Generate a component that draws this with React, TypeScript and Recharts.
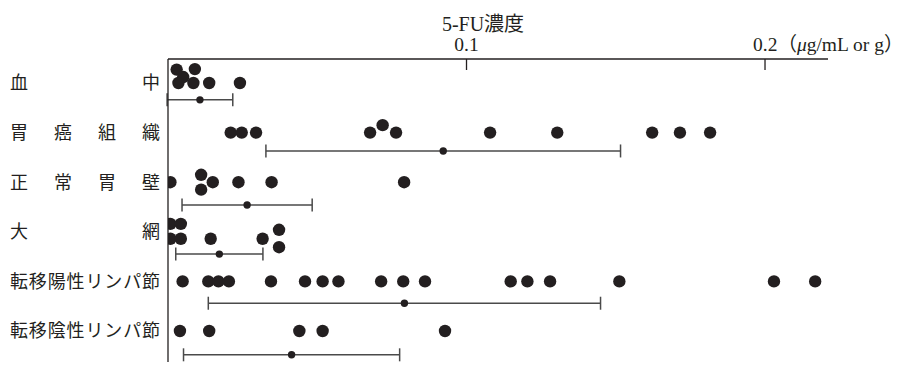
import { ScatterChart, Scatter, XAxis, YAxis, ErrorBar } from "recharts";

const INK = "#231f20";
const BAR_INK = "#4a4a4a";
const SERIF = "'Liberation Serif', 'Noto Sans CJK JP', serif";
const JP = "'Noto Sans CJK JP', sans-serif";

const ROW_NAMES = ["血中", "胃癌組織", "正常胃壁", "大網", "転移陽性リンパ節", "転移陰性リンパ節"];

// individual 5-FU concentrations (µg/mL or g)
const bloodValues = [0.0029, 0.009, 0.0051, 0.0035, 0.0085, 0.0138, 0.0241];
const cancerValues = [0.021, 0.0247, 0.0295, 0.0677, 0.0719, 0.0764, 0.1079, 0.1304, 0.1622, 0.1715, 0.1816];
const normalValues = [0.0008, 0.0111, 0.0111, 0.015, 0.0236, 0.0347, 0.0791];
const omentumValues = [0.0008, 0.0043, 0.0008, 0.0043, 0.0143, 0.0317, 0.0372, 0.0372];
const posNodeValues = [
  0.0049, 0.0135, 0.0169, 0.0204, 0.0345, 0.0459, 0.0518, 0.0571, 0.0714, 0.0788, 0.0861, 0.1148, 0.1204,
  0.128, 0.1512, 0.203, 0.2168,
];
const negNodeValues = [0.004, 0.0138, 0.044, 0.0518, 0.0928];

// vertical stacking of overlapping dots (in row units)
const bloodStack = [-0.27, -0.28, -0.12, 0, 0, 0, 0];
const cancerStack = [0, 0, 0, 0, -0.15, 0, 0, 0, 0, 0, 0];
const normalStack = [0, -0.15, 0.15, 0, 0, 0, 0];
const omentumStack = [-0.16, -0.16, 0.14, 0.14, 0.14, 0.14, -0.04, 0.31];
const posNodeStack = posNodeValues.map(() => 0);
const negNodeStack = negNodeValues.map(() => 0);

// mean ± SD per row
const MEANS = [0.0107, 0.0922, 0.0265, 0.0172, 0.0792, 0.0414];
const SDS = [0.011, 0.0594, 0.0218, 0.0146, 0.0657, 0.0362];
const BAR_ROW_OFFSET = [0.34, 0.37, 0.46, 0.45, 0.44, 0.48];

const X_TICKS = [0.1, 0.2];
const ROW_TICKS = [0, 1, 2, 3, 4, 5];

const rows = [
  { values: bloodValues, stack: bloodStack },
  { values: cancerValues, stack: cancerStack },
  { values: normalValues, stack: normalStack },
  { values: omentumValues, stack: omentumStack },
  { values: posNodeValues, stack: posNodeStack },
  { values: negNodeValues, stack: negNodeStack },
];

const dots = rows.flatMap((r, i) => r.values.map((v, j) => ({ x: v, y: i + r.stack[j] })));
const means = MEANS.map((m, i) => ({ x: m, y: i + BAR_ROW_OFFSET[i], sd: SDS[i] }));

function TopTick(props: any) {
  const { x, y, payload } = props;
  const v = payload.value;
  return (
    <g>
      <line x1={x} x2={x} y1={y} y2={y + 11} stroke={INK} strokeWidth={1.3} />
      {v === 0.2 ? (
        <text x={x - 12} y={y - 8} fontFamily={SERIF} fontSize={19.5} fill={INK}>
          0.2
          <tspan fontFamily={JP}>（</tspan>
          <tspan fontStyle="italic">μ</tspan>
          g/mL or g
          <tspan fontFamily={JP}>）</tspan>
        </text>
      ) : (
        <text x={x} y={y - 8} textAnchor="middle" fontFamily={SERIF} fontSize={19.5} fill={INK}>
          {v.toFixed(1)}
        </text>
      )}
    </g>
  );
}

function RowTick(props: any) {
  const { x, y, payload } = props;
  const name = ROW_NAMES[payload.value];
  return (
    <text
      x={x - 158}
      y={y}
      dy="0.36em"
      textLength={150}
      lengthAdjust="spacing"
      fontFamily={JP}
      fontSize={18}
      fill={INK}
    >
      {name}
    </text>
  );
}

function Title(props: any) {
  const vb = props.viewBox || { x: 168, y: 29, height: 30 };
  const axisY = vb.y + (vb.height || 0);
  return (
    <text x={vb.x + 315} y={axisY - 28} textAnchor="middle" fontFamily={SERIF} fontSize={20} fill={INK}>
      5-FU濃度
    </text>
  );
}

const bigDot = (p: any) => <circle cx={p.cx} cy={p.cy} r={6.2} fill={INK} />;
const smallDot = (p: any) => <circle cx={p.cx} cy={p.cy} r={3.7} fill={INK} />;

export default function App() {
  return (
    <div style={{ position: "absolute", left: 0, top: 0, width: 915, height: 367, background: "#fff" }}>
      <ScatterChart width={915} height={367} margin={{ top: 29, right: 87, bottom: 5, left: 0 }}>
        <XAxis
          type="number"
          dataKey="x"
          orientation="top"
          domain={[0, 0.2211]}
          allowDataOverflow
          ticks={X_TICKS}
          interval={0}
          height={30}
          tickSize={0}
          tickMargin={0}
          tickLine={false}
          tick={<TopTick />}
          axisLine={{ stroke: INK, strokeWidth: 1.3 }}
          label={<Title />}
        />
        <YAxis
          type="number"
          dataKey="y"
          domain={[-0.484, 5.625]}
          reversed
          allowDataOverflow
          ticks={ROW_TICKS}
          interval={0}
          width={168}
          tickSize={0}
          tickMargin={0}
          tickLine={false}
          tick={<RowTick />}
          axisLine={{ stroke: INK, strokeWidth: 1.3 }}
        />
        <Scatter data={means} shape={smallDot} isAnimationActive={false}>
          <ErrorBar dataKey="sd" direction="x" width={6.5} stroke={BAR_INK} strokeWidth={1.5} isAnimationActive={false} />
        </Scatter>
        <Scatter data={dots} shape={bigDot} isAnimationActive={false} />
      </ScatterChart>
    </div>
  );
}
